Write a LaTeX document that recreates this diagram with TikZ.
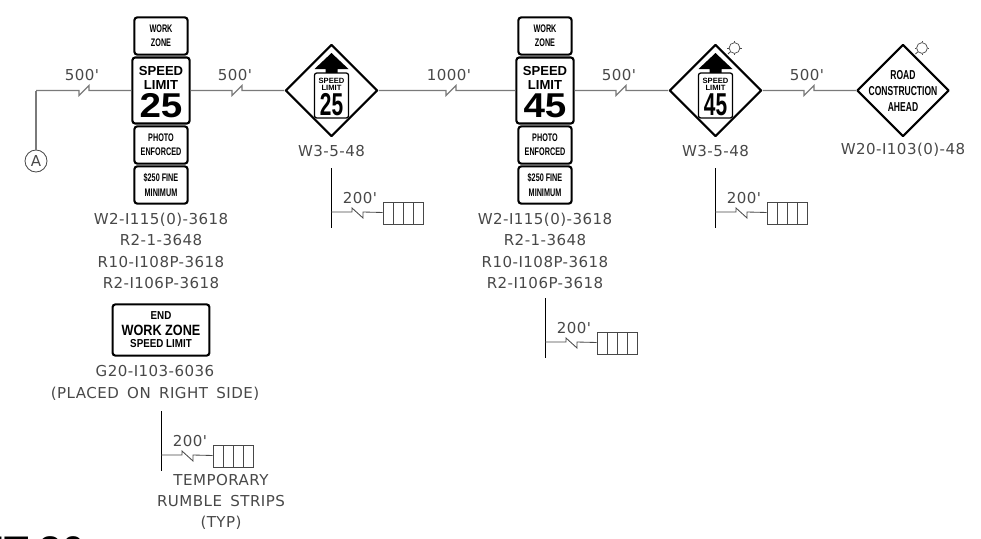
\documentclass[tikz,border=0pt]{standalone}
\usepackage{fontspec}
\setmainfont{Liberation Sans}
\newfontfamily\labelfont[LetterSpace=3,WordSpace=1.6]{DejaVu Sans}
\newfontfamily\signfont[FakeStretch=0.66]{Liberation Sans}
\newfontfamily\signwide[FakeStretch=0.85]{Liberation Sans}
\newfontfamily\signbig[FakeStretch=1.12]{Liberation Sans}
\usetikzlibrary{shapes.geometric}
\usetikzlibrary{calc}
\definecolor{labelgray}{HTML}{484848}
\definecolor{linegray}{HTML}{7A7A7A}
\tikzset{
	panel/.style={draw=black,line width=1.5pt,rounded corners=2pt,fill=white,inner sep=0pt,minimum width=1.33cm,minimum height=.93cm,align=center,font=\signfont\bfseries\fontsize{7.8}{10}\selectfont},
	limitpanel/.style={panel,minimum width=1.43cm,minimum height=1.65cm},
	warning/.style={draw=black,line width=1.5pt,line join=round,diamond,aspect=1,fill=white,inner sep=0pt,minimum width=2.3cm,minimum height=2.3cm},
	roadline/.style={draw=linegray,line width=.8pt},
	stripline/.style={draw=labelgray,line width=.6pt},
	lbl/.style={inner sep=0pt,align=center,text=labelgray,font=\labelfont\fontsize{10.7}{15.2}\selectfont},
	signtext/.style={inner sep=0pt,align=center},
}
% one stack of four panels
\newcommand{\signstack}[3]{
	\node[panel] (#1work) at (#2,36) {WORK\\ZONE};
	\node[limitpanel] (#1limit) at (#2,90.5) {};
	\node[signtext,font=\bfseries\fontsize{9.3}{10}\selectfont] (#1limittext) at (#2,77.5) {SPEED\\LIMIT};
	\node[signtext,font=\signbig\bfseries\fontsize{24.5}{25}\selectfont] (#1speed) at (#2,105.5) {#3};
	\node[panel] (#1photo) at (#2,145) {PHOTO\\ENFORCED};
	\node[panel] (#1fine) at (#2,185) {\$250 FINE\\MINIMUM};
	\node[lbl] (#1codes) at (#2,251) {W2-I115(0)-3618\\R2-1-3648\\R10-I108P-3618\\R2-I106P-3618};
}
% diamond with the small speed plate
\newcommand{\reducedsign}[3]{
	\node[warning] (#1) at (#2,90.5) {};
	\fill[black] (#2,53) -- (#2+17,69) -- (#2+6,69) -- (#2+6,73) -- (#2-6,73) -- (#2-6,69) -- (#2-17,69) -- cycle;
	\node[draw=black,line width=.9pt,rounded corners=1.5pt,inner sep=0pt,fill=white,minimum width=.85cm,minimum height=1.12cm] (#1plate) at (#2,95.5) {};
	\node[signtext,font=\bfseries\fontsize{5.4}{4.8}\selectfont] (#1platetext) at (#2,84) {SPEED\\LIMIT};
	\node[signtext,font=\signfont\bfseries\fontsize{22.5}{22}\selectfont] (#1platespeed) at (#2,104.5) {#3};
	\node[lbl] (#1code) at (#2,151) {W3-5-48};
}
% small lamp on a diamond
\newcommand{\lamp}[3]{
	\coordinate (#1foot) at (#2+12.5,54);
	\node[circle,draw=labelgray,line width=.5pt,inner sep=0pt,minimum size=.27cm] (#1) at (#2+19,48) {};
	\draw[stripline] (#1) -- (#1foot);
	\draw[stripline] (#1.north) -- ++(0,-1.5);
	\draw[stripline] (#1.east) -- ++(1.5,0);
	\draw[stripline] (#1.west) -- ++(-1.5,0);
	\draw[stripline] (#1.south) -- ++(0,1.5);
}
% road line between two signs
\newcommand{\roadlink}[4]{
	\draw[roadline] (#1) -- (#3,90.5) -- ++(0,5) -- ++(10,-10) -- ++(0,5) -- (#2);
	\node[lbl] at (#3+3,75) {#4};
}
% rumble strips with the distance to the sign
\newcommand{\rumble}[3]{
	\coordinate (#1top) at (#2,#3);
	\coordinate (#1bot) at (#2,#3+60);
	\coordinate (#1tee) at (#2,#3+44);
	\node[draw=labelgray,line width=.6pt,inner sep=0pt,minimum width=1cm,minimum height=.55cm] (#1box) at (#2+72,#3+45) {};
	\draw[draw=black,line width=.7pt] (#1top) -- (#1bot);
	\draw[stripline] (#1tee) -- (#2+21,#3+44) -- ++(0,-4) -- ++(11,10) -- ++(0,-6) -- (#1box);
	\draw[stripline] (#2+62,#3+34) -- (#2+62,#3+56);
	\draw[stripline] (#2+72,#3+34) -- (#2+72,#3+56);
	\draw[stripline] (#2+82,#3+34) -- (#2+82,#3+56);
	\node[lbl] (#1dist) at (#2+29,#3+30) {200'};
}

\begin{document}
\begin{tikzpicture}[x=.025cm,y=-.025cm]
	\useasboundingbox (0,0) rectangle (981,539);
	% start of the line
	\node[circle,draw=labelgray,line width=.6pt,inner sep=0pt,minimum size=.55cm,lbl] (startA) at (36,161) {A};
	\coordinate (corner) at (36,90.5);
	% signs along the road
	\signstack{left}{161}{25}
	\reducedsign{warnA}{331.5}{25}
	\signstack{right}{545}{45}
	\reducedsign{warnB}{715.5}{45}
	\lamp{lampB}{715.5}{}
	\node[warning] (roadsign) at (903,90.5) {};
	\lamp{lampC}{903}{}
	\node[signtext,font=\signfont\bfseries\fontsize{9.2}{11.4}\selectfont] (roadtext) at (903,91) {ROAD\\CONSTRUCTION\\AHEAD};
	\node[lbl] (roadcode) at (903,150) {W20-I103(0)-48};
	% road line
	\draw[roadline] (startA) -- (corner);
	\roadlink{corner}{leftlimit}{79}{500'}
	\roadlink{leftlimit}{warnA}{232}{500'}
	\roadlink{warnA}{rightlimit}{446}{1000'}
	\roadlink{rightlimit}{warnB}{616}{500'}
	\roadlink{warnB}{roadsign}{804}{500'}
	% end of work zone sign
	\node[panel,minimum width=2.42cm,minimum height=1.28cm] (endsign) at (161,330) {};
	\node[signtext,font=\signwide\bfseries\fontsize{8.2}{10}\selectfont] (endtext) at (161,316) {END};
	\node[signtext,font=\signwide\bfseries\fontsize{10.6}{10}\selectfont] (worktext) at (161,330) {WORK ZONE};
	\node[signtext,font=\signwide\bfseries\fontsize{8.2}{10}\selectfont] (limittext) at (161,344) {SPEED LIMIT};
	\node[lbl] (endcode) at (155,383) {G20-I103-6036\\(PLACED ON RIGHT SIDE)};
	% rumble strips
	\rumble{stripA}{161}{411}
	\rumble{stripB}{331}{168}
	\rumble{stripC}{545}{298}
	\rumble{stripD}{715}{168}
	\node[lbl] (striptext) at (221,502) {TEMPORARY\\RUMBLE STRIPS\\(TYP)};
	% cut off at the lower edge
	\node[anchor=base west,inner sep=0pt,font=\bfseries\fontsize{28.4}{30}\selectfont] (cutoff) at (-7,564) {IT 30};
\end{tikzpicture}
\end{document}
